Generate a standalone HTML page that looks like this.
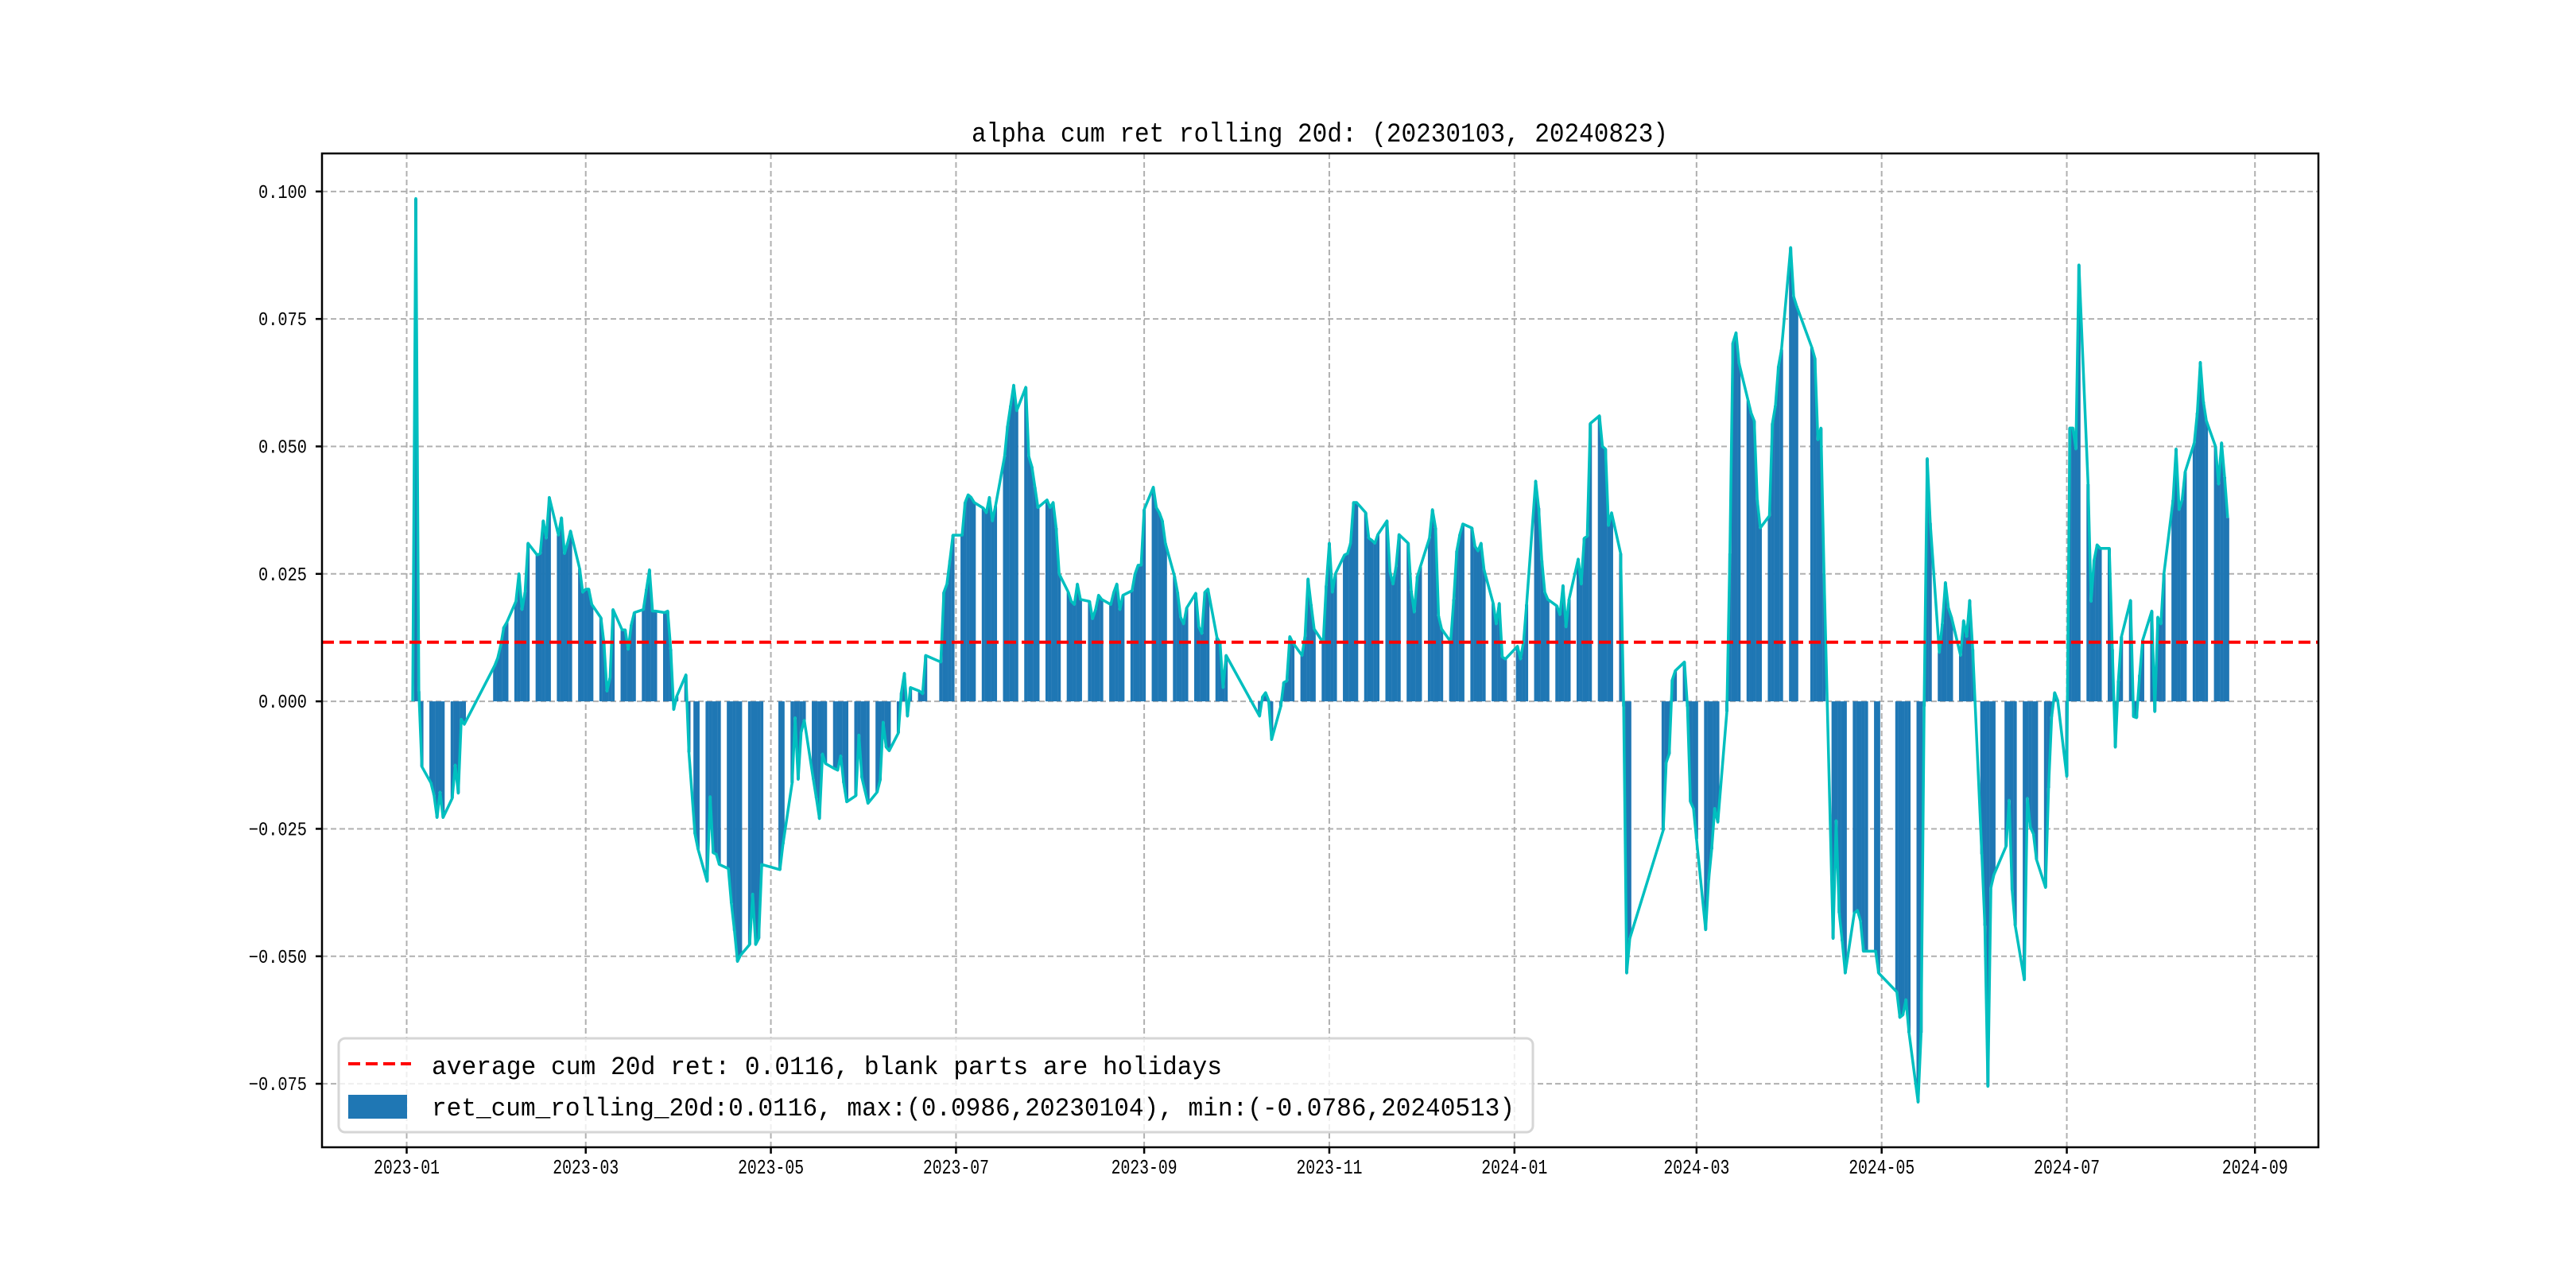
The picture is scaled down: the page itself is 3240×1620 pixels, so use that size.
<!DOCTYPE html>
<html><head><meta charset="utf-8"><style>
html,body{margin:0;padding:0;background:#fff;}
svg{display:block;}
text{font-family:"Liberation Mono","Noto Sans CJK SC",monospace;fill:#000;}
</style></head>
<body>
<svg id="chart" width="3240" height="1620" viewBox="0 0 3240 1620" xmlns="http://www.w3.org/2000/svg">
<rect x="0" y="0" width="3240" height="1620" fill="#fff"/>
<text x="1660" y="178" font-size="34" text-anchor="middle" textLength="876" lengthAdjust="spacingAndGlyphs">alpha cum ret rolling 20d: (20230103, 20240823)</text>
<g id="grid"></g>
<g id="bars"></g>
<g id="lines"></g>
<g id="axes"></g>
<g id="legend">
  <rect x="426" y="1306" width="1502" height="118" rx="8" fill="#fff" fill-opacity="0.8" stroke="#d6d6d6" stroke-width="3"/>
  <line x1="438" y1="1338" x2="517" y2="1338" stroke="#ff0000" stroke-width="4" stroke-dasharray="15,7"/>
  <text x="543" y="1351" font-size="32" textLength="994" lengthAdjust="spacingAndGlyphs">average cum 20d ret: 0.0116, blank parts are holidays</text>
  <rect x="438" y="1377" width="74" height="30" fill="#1f77b4"/>
  <text x="543" y="1403" font-size="32" textLength="1362" lengthAdjust="spacingAndGlyphs">ret_cum_rolling_20d:0.0116, max:(0.0986,20230104), min:(-0.0786,20240513)</text>
</g>
</svg>
<script>
// ---- data ----
const startDate = "2023-01-03";
const endDate = "2024-08-23";
const holidays = ["2023-01-02","2023-01-23","2023-01-24","2023-01-25","2023-01-26","2023-01-27","2023-04-05","2023-05-01","2023-05-02","2023-05-03","2023-06-22","2023-06-23","2023-09-29","2023-10-02","2023-10-03","2023-10-04","2023-10-05","2023-10-06","2024-01-01","2024-02-09","2024-02-12","2024-02-13","2024-02-14","2024-02-15","2024-02-16","2024-04-04","2024-04-05","2024-05-01","2024-05-02","2024-05-03","2024-06-10"];
const values = [
0.0,0.0986,0.002,-0.0128,
-0.016,-0.0184,-0.0228,-0.0178,-0.0228,
-0.019,-0.0125,-0.018,-0.0035,-0.0045,
0.007,0.0085,0.011,0.0145,0.0155,
0.0196,0.025,0.018,0.0214,0.031,
0.0287,0.029,0.0354,0.032,0.040,
0.0326,0.036,0.029,0.031,0.0334,
0.026,0.0214,0.022,0.022,0.019,
0.0164,0.0115,0.002,0.0046,0.018,
0.014,0.014,0.0102,0.015,0.0174,
0.018,0.022,0.0258,0.0177,0.0177,
0.0174,0.0177,0.0102,-0.0016,0.001,
0.0052,-0.01,-0.026,-0.029,
-0.0353,-0.0187,-0.0297,-0.03,-0.032,
-0.0328,-0.0396,-0.045,-0.051,-0.0498,
-0.0477,-0.0378,-0.0477,-0.0465,-0.032,
-0.033,-0.028,
-0.016,-0.0032,-0.0153,-0.006,-0.0037,
-0.0153,-0.019,-0.023,-0.0103,-0.0122,
-0.0132,-0.0135,-0.0107,-0.016,-0.0197,
-0.0185,-0.0066,-0.015,-0.0175,-0.02,
-0.0178,-0.0155,-0.0041,-0.009,-0.0097,
-0.0062,0.0017,0.0055,-0.0029,0.0027,
0.002,0.0015,0.009,
0.0077,0.0214,0.023,0.0277,0.0326,
0.0326,0.039,0.0405,0.040,0.039,
0.0379,0.037,0.040,0.0354,0.0383,
0.048,0.054,0.058,0.062,0.057,
0.0616,0.048,0.046,0.042,0.038,
0.0395,0.038,0.039,0.034,0.025,
0.0214,0.0196,0.019,0.023,0.020,
0.0196,0.0162,0.018,0.0208,0.020,
0.019,0.0214,0.023,0.018,0.0208,
0.0217,0.025,0.0267,0.0267,0.0376,
0.042,0.038,0.037,0.0354,0.031,
0.0245,0.0214,0.0165,0.0152,0.0183,
0.0212,0.0146,0.0133,0.0214,0.022,
0.0125,0.0115,0.0027,0.009,
-0.0029,0.0009,0.0017,0.0002,-0.0075,
-0.001,0.0037,0.004,0.0127,0.0115,
0.009,0.0127,0.024,0.019,0.0142,
0.0115,0.0227,0.031,0.0214,0.025,
0.0287,0.029,0.031,0.039,0.039,
0.037,0.032,0.0316,0.031,0.0327,
0.0354,0.0254,0.023,0.0264,0.0327,
0.031,0.0217,0.0175,0.0245,0.0264,
0.032,0.0376,0.034,0.0167,0.0142,
0.0117,0.02,0.0295,0.0327,0.0348,
0.034,0.0304,0.0295,0.031,0.0258,
0.0192,0.0152,0.0192,0.0087,0.0083,
0.0108,0.0083,0.0117,0.019,
0.0432,0.0379,0.0277,0.0214,0.020,
0.0187,0.017,0.0227,0.0146,0.020,
0.0279,0.023,0.032,0.0324,0.0545,
0.056,0.050,0.0495,0.0345,0.037,
0.029,-0.001,-0.0533,-0.0465,
-0.0253,-0.012,-0.0103,0.0042,0.006,
0.0077,-0.001,-0.0197,-0.021,-0.027,
-0.0448,-0.035,-0.029,-0.021,-0.0237,
-0.002,0.029,0.0703,0.0723,0.0663,
0.059,0.0565,0.055,0.0395,0.034,
0.0364,0.0545,0.058,0.0657,0.069,
0.089,0.0794,0.0775,
0.0694,0.0673,0.0513,0.0536,0.025,
-0.0465,-0.0234,-0.0415,-0.047,-0.0533,
-0.0415,-0.041,-0.043,-0.049,-0.049,
-0.049,-0.0533,
-0.057,-0.062,-0.0615,-0.0585,-0.065,
-0.0786,-0.065,-0.001,0.0476,0.035,
0.0096,0.0152,0.0233,0.0183,0.0165,
0.009,0.0158,0.0127,0.0198,0.0102,
-0.03,-0.044,-0.0755,-0.0365,-0.034,
-0.0284,-0.0194,-0.037,-0.044,
-0.0546,-0.019,-0.0247,-0.026,-0.031,
-0.0365,-0.017,-0.003,0.0017,0.0002,
-0.0147,0.0536,0.0536,0.0495,0.0856,
0.0426,0.0196,0.0277,0.0307,0.030,
0.030,0.0102,-0.009,0.004,0.0127,
0.0198,-0.003,-0.0032,0.0052,0.012,
0.0177,-0.002,0.0165,0.0152,0.025,
0.0395,0.0495,0.0376,0.0395,0.045,
0.0507,0.0566,0.0665,0.0588,0.055,
0.050,0.0426,0.0507,0.044,0.036
];
const averageRet = 0.0116;
const yTicks = [-0.075,-0.050,-0.025,0.000,0.025,0.050,0.075,0.100];
const yTickLabels = ["\u22120.075","\u22120.050","\u22120.025","0.000","0.025","0.050","0.075","0.100"];
const xTicks = ["2023-01-01","2023-03-01","2023-05-01","2023-07-01","2023-09-01","2023-11-01","2024-01-01","2024-03-01","2024-05-01","2024-07-01","2024-09-01"];
const xTickLabels = ["2023-01","2023-03","2023-05","2023-07","2023-09","2023-11","2024-01","2024-03","2024-05","2024-07","2024-09"];

// ---- layout ----
const NS = "http://www.w3.org/2000/svg";
const L = 405, R = 2916, T = 193, B = 1443;
const DAY = 86400000;
const t0 = Date.UTC(2023,0,1);
function dayNum(s){ const p=s.split("-"); return (Date.UTC(+p[0],+p[1]-1,+p[2])-t0)/DAY; }
const tradeDays = [];
(function(){
  const hs = new Set(holidays);
  let d = dayNum(startDate), e = dayNum(endDate);
  for(; d<=e; d++){
    const dt = new Date(t0 + d*DAY);
    const wd = dt.getUTCDay();
    const iso = dt.toISOString().slice(0,10);
    if(wd===0||wd===6||hs.has(iso)) continue;
    tradeDays.push(d);
  }
})();
const n = Math.min(tradeDays.length, values.length);
const d0 = tradeDays[0], d1 = tradeDays[n-1];
const xmin = d0 - 0.05*(d1-d0), xmax = d1 + 0.05*(d1-d0);
let vmax = Math.max(...values.slice(0,n)), vmin = Math.min(...values.slice(0,n), 0);
const ymin = vmin - 0.05*(vmax-vmin), ymax = vmax + 0.05*(vmax-vmin);
function xs(d){ return L + (d-xmin)/(xmax-xmin)*(R-L); }
function ys(v){ return B - (v-ymin)/(ymax-ymin)*(B-T); }
function mk(tag, attrs, parent){ const el=document.createElementNS(NS,tag); for(const k in attrs) el.setAttribute(k,attrs[k]); parent.appendChild(el); return el; }

const grid = document.getElementById("grid");
const bars = document.getElementById("bars");
const lines = document.getElementById("lines");
const axes = document.getElementById("axes");

yTicks.forEach((v,i)=>{
  const y = ys(v);
  const g = mk("line",{x1:L,x2:R,y1:y,y2:y,stroke:"#b0b0b0","stroke-width":2,"stroke-dasharray":"7,4"},grid);
  
  
  const tk = mk("line",{x1:L-8,x2:L,y1:y,y2:y,stroke:"#000","stroke-width":2.5},axes);
  
  
  const tx = mk("text",{x:386,y:y+8,"font-size":24,"text-anchor":"end",textLength:yTickLabels[i].length*12.2,lengthAdjust:"spacingAndGlyphs"},axes);
  tx.textContent = yTickLabels[i];
  
  
});
xTicks.forEach((s,i)=>{
  const x = xs(dayNum(s));
  const g = mk("line",{x1:x,x2:x,y1:T,y2:B,stroke:"#b0b0b0","stroke-width":2,"stroke-dasharray":"7,4"},grid);
  
  
  const tk = mk("line",{x1:x,x2:x,y1:B,y2:B+8,stroke:"#000","stroke-width":2.5},axes);
  
  
  const tx = mk("text",{x:x,y:1476,"font-size":26,"text-anchor":"middle",textLength:83,lengthAdjust:"spacingAndGlyphs"},axes);
  tx.textContent = xTickLabels[i];
  
  
});

const y0 = ys(0);
for(let i=0;i<n;i++){
  const v = values[i];
  const x = xs(tradeDays[i]-0.52), w = xs(tradeDays[i]+0.52)-x;
  const y = ys(v);
  const b = mk("rect",{x:x,y:Math.min(y,y0),width:w,height:Math.abs(y-y0),fill:"#1f77b4"},bars);
  
  
}
let pts = [];
for(let i=0;i<n;i++) pts.push(xs(tradeDays[i]).toFixed(1)+","+ys(values[i]).toFixed(1));
const pl = mk("polyline",{points:pts.join(" "),fill:"none",stroke:"#00bfbf","stroke-width":3.5,"stroke-linejoin":"round"},lines);


const ya = ys(averageRet);
const al = mk("line",{x1:L,x2:R,y1:ya,y2:ya,stroke:"#ff0000","stroke-width":4,"stroke-dasharray":"15,7"},lines);


const fr = mk("rect",{x:L,y:T,width:R-L,height:B-T,fill:"none",stroke:"#000","stroke-width":2.5},axes);


const svg = document.getElementById("chart");
svg.appendChild(document.getElementById("legend"));
</script>
</body></html>
